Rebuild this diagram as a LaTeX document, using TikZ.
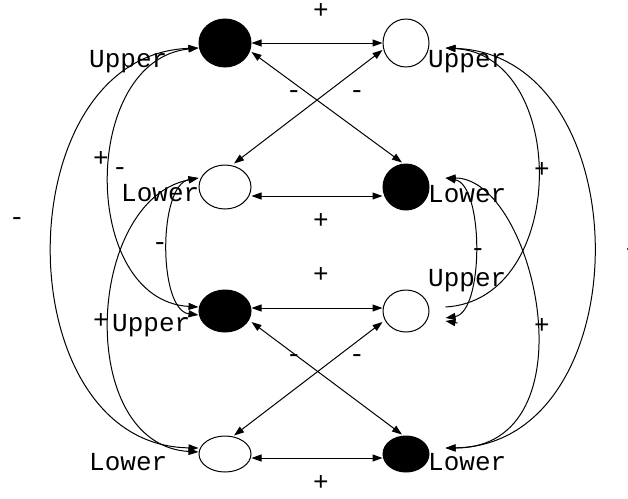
\documentclass[tikz,border=0pt]{standalone}
\usepackage{fontspec}
\setmainfont{Liberation Mono}
\usetikzlibrary{arrows.meta,shapes.geometric}
\begin{document}
\begin{tikzpicture}[x=1pt,y=-1pt,
  every node/.style={font=\fontsize{26}{30}\selectfont},
  blk/.style={ellipse,draw,fill=black,line width=1pt,inner sep=0pt},
  wht/.style={ellipse,draw,fill=white,line width=1pt,inner sep=0pt},
  lbl/.style={inner sep=0pt,anchor=base west},
  sgn/.style={inner sep=0pt,text height=0.6em,text depth=0pt},
  conn/.style={line width=1pt,{Triangle[length=10pt,width=7pt]}-{Triangle[length=10pt,width=7pt]}},
  tipstart/.style={line width=1pt,{Triangle[length=10pt,width=7pt]}-},
  tipend/.style={line width=1pt,-{Triangle[length=10pt,width=7pt]}}]
\useasboundingbox (0,0) rectangle (628,498);
% nodes
\node[blk,minimum width=52pt,minimum height=48pt] (A) at (225,43) {};
\node[wht,minimum width=46pt,minimum height=48pt] (B) at (406,43) {};
\node[wht,minimum width=52pt,minimum height=44pt] (C) at (225,187) {};
\node[blk,minimum width=46pt,minimum height=46pt] (D) at (406,187) {};
\node[blk,minimum width=52pt,minimum height=42pt] (E) at (225,311) {};
\node[wht,minimum width=46pt,minimum height=42pt] (F) at (406,311) {};
\node[wht,minimum width=52pt,minimum height=36pt] (G) at (225,454) {};
\node[blk,minimum width=46pt,minimum height=36pt] (H) at (406,454) {};
% node labels
\node[lbl] (lA) at (89,67) {Upper};
\node[lbl] (lB) at (428,67) {Upper};
\node[lbl] (lC) at (121,201) {Lower};
\node[lbl] (lD) at (428,202) {Lower};
\node[lbl] (lE) at (112,331) {Upper};
\node[lbl] (lF) at (428,286) {Upper};
\node[lbl] (lG) at (89,470) {Lower};
\node[lbl] (lH) at (428,470) {Lower};
% sign labels
\node[sgn] (s1) at (321,15) {+};
\node[sgn] (s2) at (294,95) {-};
\node[sgn] (s3) at (357,95) {-};
\node[sgn] (s4) at (321,225) {+};
\node[sgn] (s5) at (321,279) {+};
\node[sgn] (s6) at (294,359) {-};
\node[sgn] (s7) at (357,359) {-};
\node[sgn] (s8) at (321,487) {+};
\node[sgn] (s9) at (17,222) {-};
\node[sgn] (s10) at (101,163) {+};
\node[sgn] (s11) at (120,172) {-};
\node[sgn] (s12) at (160,247) {-};
\node[sgn] (s13) at (101,325) {+};
\node[sgn] (s14) at (542,174) {+};
\node[sgn] (s15) at (478,253) {-};
\node[sgn] (s16) at (542,330) {+};
\node[sgn] (s17) at (631,253) {-};
% straight connectors
\draw[conn] (A.east) -- (B.west);
\draw[conn] ([shift={(0,9)}]C.east) -- ([shift={(0,9)}]D.west);
\draw[conn] ([shift={(0,-3)}]E.east) -- ([shift={(0,-3)}]F.west);
\draw[conn] ([shift={(0,4)}]G.east) -- ([shift={(0,4)}]H.west);
\draw[conn] ([shift={(0,9)}]A.east) -- ([shift={(-4,-1)}]D.north);
\draw[conn] ([shift={(0,7)}]B.west) -- ([shift={(9,-1)}]C.north);
\draw[conn] ([shift={(0,11)}]E.east) -- ([shift={(-4,-1)}]H.north);
\draw[conn] ([shift={(0,11)}]F.west) -- ([shift={(9,0)}]G.north);
% left curves
\draw[conn] ([shift={(0,5)}]A.west) .. controls (4,55) and (4,445) .. ([shift={(0,-6)}]G.west);
\draw[conn] ([shift={(0,5)}]A.west) .. controls (80,60) and (80,300) .. ([shift={(0,-4)}]E.west);
\draw[conn] ([shift={(0,-9)}]C.west) .. controls (85,200) and (75,445) .. ([shift={(0,-2)}]G.west);
\draw[conn] ([shift={(0,-9)}]C.west) .. controls (158,185) and (158,310) .. ([shift={(0,4)}]E.west);
% right curves
\draw[conn] ([shift={(16,5)}]B.east) .. controls (642,55) and (642,445) .. ([shift={(16,-6)}]H.east);
\draw[conn] ([shift={(16,-9)}]D.east) .. controls (535,178) and (595,448) .. ([shift={(16,-6)}]H.east);
\draw[conn] ([shift={(16,-9)}]D.east) .. controls (484,185) and (484,312) .. ([shift={(16,7)}]F.east);
\draw[tipstart] ([shift={(16,5)}]B.east) .. controls (569,55) and (569,300) .. ([shift={(16,-4)}]F.east);
\draw[tipend] ([shift={(28,12)}]F.east) -- ([shift={(16,10)}]F.east);
\end{tikzpicture}
\end{document}
